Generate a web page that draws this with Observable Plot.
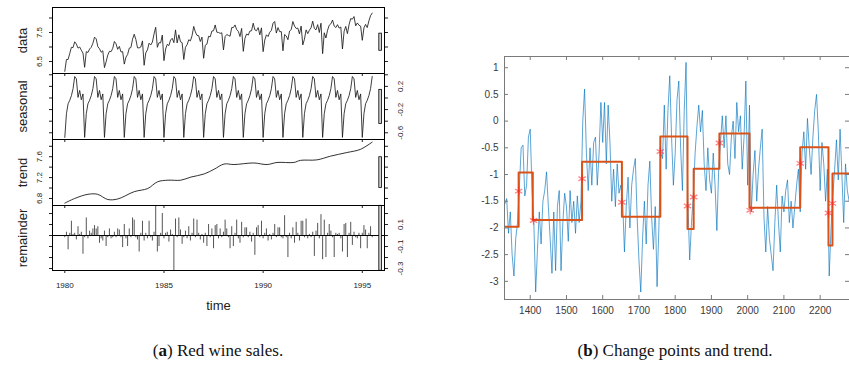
<!DOCTYPE html>
<html><head><meta charset="utf-8">
<script src="https://cdn.jsdelivr.net/npm/d3@7"></script>
<script src="https://cdn.jsdelivr.net/npm/@observablehq/plot@0.6"></script>
<style>
body{margin:0;background:#fff;}
#root{position:relative;width:849px;height:370px;overflow:hidden;background:#fff;}
.panel{position:absolute;}
.cap{position:absolute;top:341px;font-family:"Liberation Serif","DejaVu Serif",serif;font-size:17px;color:#111;white-space:nowrap;transform:translateX(-50%);}
</style></head><body><div id="root"></div>
<script>
// ---------- (a) Red wine sales, STL decomposition (monthly, Jan 1980 - Jul 1995) ----------
const wineStartYear = 1980;
const wineData = [
 6.16,6.57,6.57,6.78,6.99,6.98,7.18,7.10,6.96,7.00,6.89,6.79,
 6.30,6.84,6.81,6.93,6.99,7.13,7.34,7.28,7.01,6.94,6.82,6.87,
 6.29,6.49,6.72,6.85,6.84,6.95,7.19,7.11,6.92,7.02,6.83,6.84,
 6.41,6.65,6.74,6.96,6.98,7.27,7.44,7.26,6.97,6.97,7.00,7.21,
 6.37,6.80,6.90,7.13,7.07,7.17,7.45,7.68,6.99,7.15,7.14,7.41,
 6.53,6.93,7.09,7.05,7.24,7.30,7.15,7.59,7.14,7.42,7.18,7.15,
 6.57,6.99,7.08,7.25,7.21,7.39,7.71,7.52,7.40,7.39,7.19,7.34,
 6.61,7.06,7.10,7.37,7.35,7.55,7.56,7.76,7.51,7.50,7.47,7.49,
 6.90,7.36,7.43,7.40,7.37,7.67,7.67,7.76,7.60,7.54,7.36,7.64,
 6.85,7.30,7.45,7.41,7.55,7.56,7.82,7.59,7.56,7.67,7.42,7.66,
 6.84,7.24,7.42,7.36,7.51,7.57,7.82,7.88,7.48,7.67,7.53,7.53,
 6.87,7.43,7.38,7.25,7.55,7.60,7.88,7.72,7.64,7.65,7.45,7.72,
 7.07,7.27,7.59,7.46,7.58,7.66,7.89,7.64,7.59,7.77,7.50,7.82,
 6.77,7.49,7.31,7.58,7.75,7.80,7.93,7.72,7.67,7.77,7.65,7.69,
 6.93,7.54,7.71,7.46,7.77,7.98,7.96,8.05,7.73,7.83,7.75,7.72,
 7.23,7.66,7.78,7.67,7.90,8.08,8.17
];
const wineSeasonal = [
 -0.68,-0.27,-0.10,-0.04,0.04,0.16,0.37,0.33,0.01,0.13,-0.03,0.07,
 -0.68,-0.27,-0.10,-0.04,0.04,0.16,0.37,0.33,0.01,0.13,-0.03,0.07,
 -0.68,-0.27,-0.10,-0.04,0.04,0.16,0.37,0.33,0.01,0.13,-0.03,0.07,
 -0.68,-0.27,-0.10,-0.04,0.04,0.16,0.37,0.33,0.01,0.13,-0.03,0.07,
 -0.68,-0.27,-0.10,-0.04,0.04,0.16,0.37,0.33,0.01,0.13,-0.03,0.07,
 -0.68,-0.27,-0.10,-0.04,0.04,0.16,0.37,0.33,0.01,0.13,-0.03,0.07,
 -0.68,-0.27,-0.10,-0.04,0.04,0.16,0.37,0.33,0.01,0.13,-0.03,0.07,
 -0.68,-0.27,-0.10,-0.04,0.04,0.16,0.37,0.33,0.01,0.13,-0.03,0.07,
 -0.68,-0.27,-0.10,-0.04,0.04,0.16,0.37,0.33,0.01,0.13,-0.03,0.07,
 -0.68,-0.27,-0.10,-0.04,0.04,0.16,0.37,0.33,0.01,0.13,-0.03,0.07,
 -0.68,-0.27,-0.10,-0.04,0.04,0.16,0.37,0.33,0.01,0.13,-0.03,0.07,
 -0.68,-0.27,-0.10,-0.04,0.04,0.16,0.37,0.33,0.01,0.13,-0.03,0.07,
 -0.68,-0.27,-0.10,-0.04,0.04,0.16,0.37,0.33,0.01,0.13,-0.03,0.07,
 -0.68,-0.27,-0.10,-0.04,0.04,0.16,0.37,0.33,0.01,0.13,-0.03,0.07,
 -0.68,-0.27,-0.10,-0.04,0.04,0.16,0.37,0.33,0.01,0.13,-0.03,0.07,
 -0.68,-0.27,-0.10,-0.04,0.04,0.16,0.37
];
const trendTime  = [1980.0,1980.5,1981.17,1981.65,1982.17,1982.67,1983.5,1984.18,1984.68,1985.2,1985.85,1986.36,1987.03,1987.53,1988.03,1988.53,1989.53,1990.2,1990.7,1991.55,1991.88,1992.72,1993.39,1994.22,1994.9,1995.5];
const trendValue = [6.71,6.80,6.88,6.88,6.78,6.79,6.93,6.99,7.12,7.15,7.15,7.21,7.27,7.36,7.46,7.45,7.48,7.45,7.49,7.49,7.53,7.54,7.61,7.68,7.74,7.88];
const wineRemainder = [
 -0.02,0.03,-0.13,0.02,0.13,0.01,0.02,-0.04,0.08,0.01,0.03,-0.17,
 -0.02,0.16,-0.03,0.04,0.02,0.06,0.09,0.06,0.08,-0.07,-0.03,-0.05,
 0.04,-0.10,-0.02,0.06,-0.03,-0.02,0.03,-0.02,0.06,0.05,-0.02,-0.11,
 0.10,-0.03,-0.10,0.06,-0.02,0.16,0.14,-0.02,-0.04,-0.15,0.02,0.13,
 -0.05,0.02,-0.03,0.13,-0.02,-0.05,0.03,0.27,-0.15,-0.10,0.02,0.20,
 -0.03,0.02,0.03,-0.06,0.05,0.01,-0.32,0.15,-0.02,0.16,0.05,-0.08,
 -0.02,0.04,-0.03,0.08,-0.05,0.02,0.15,-0.02,0.14,0.02,-0.04,0.01,
 -0.07,0.02,-0.10,0.10,-0.02,0.06,-0.12,0.09,0.10,-0.03,0.06,-0.02,
 0.03,0.14,0.06,-0.02,-0.12,0.08,-0.10,0.02,0.14,-0.03,-0.07,0.12,
 -0.02,0.07,0.07,-0.02,0.03,-0.06,0.02,-0.18,0.07,0.09,-0.02,0.13,
 -0.03,0.02,0.06,-0.05,0.01,-0.04,0.02,0.10,-0.02,0.07,0.07,-0.02,
 -0.03,0.18,-0.02,-0.20,0.02,-0.03,0.07,-0.07,0.12,0.02,-0.05,0.13,
 0.13,-0.02,0.15,-0.03,0.01,-0.02,0.03,-0.19,0.04,0.11,-0.03,0.19,
 -0.22,0.14,-0.20,0.02,0.10,0.04,-0.02,-0.20,0.02,0.01,0.02,-0.03,
 -0.15,0.10,0.11,-0.20,0.02,0.12,-0.09,0.03,-0.02,-0.03,0.02,-0.12,
 0.02,0.09,0.05,-0.12,0.02,0.08,-0.02
];
const timeTicks = [1980, 1985, 1990, 1995];
const dataTicks = [6.5, 7, 7.5, 8],            dataLabels = [6.5, 7.5];
const seasonalTicks = [-0.6,-0.4,-0.2,0,0.2,0.4], seasonalLabels = [-0.6, -0.2, 0.2];
const trendTicks = [6.8, 7.0, 7.2, 7.4, 7.6, 7.8], trendLabels = [6.8, 7.2, 7.6];
const remainderTicks = [-0.3,-0.2,-0.1,0,0.1,0.2], remainderLabels = [-0.3, -0.1, 0.1];

// ---------- (b) Change points and trend ----------
const signalStart = 1330, signalStep = 5;
const signalValues = [
 -1.55,-1.45,-2.1,-1.7,-2.5,-2.9,-2.2,-1.9,-1.25,-0.5,
 -0.45,-1.4,-1.2,-0.3,-0.15,-1.3,-1.9,-3.2,-2.4,-1.7,
 -2.3,-1.5,-1.3,-0.95,-1.6,-2.2,-2.85,-1.7,-2.8,-1.6,
 -1.3,-2.8,-1.9,-1.35,-1.6,-2.25,-1.3,-1.9,-1.5,-2.1,
 -1.4,-1.9,-1.5,0.0,0.6,-0.6,-1.3,-0.5,-1.2,-0.4,
 -0.3,-1.2,-0.6,0.35,-0.4,0.35,-0.8,0.3,-0.4,-1.5,
 -0.9,-1.6,-0.8,-1.35,-1.2,-1.5,-2.45,-1.6,-1.05,-2.0,
 -1.2,-0.9,-0.7,-1.8,-2.6,-3.2,-2.2,-1.5,-2.3,-1.2,
 -0.75,-1.8,-2.4,-1.6,-3.1,-2.0,-0.6,-0.7,0.3,-0.9,
 0.2,0.85,-0.3,-1.2,-0.6,0.4,0.75,-0.5,-1.3,0.2,
 1.1,-1.5,-2.6,-1.9,-1.4,-0.6,-0.1,0.3,-0.2,0.2,
 -0.8,-1.3,-0.5,-1.1,-1.35,-0.6,-1.2,-2.05,-0.9,-0.4,
 0.1,-0.5,0.1,-0.8,-1.0,-0.3,0.0,-0.7,0.35,-0.2,
 0.1,-0.9,-0.3,0.75,-1.2,0.3,-1.7,-1.0,-0.55,-1.5,
 -0.9,-0.5,-0.15,-1.8,-2.45,-1.6,-2.2,-2.5,-2.8,-1.9,
 -1.2,-1.9,-2.45,-1.4,-1.7,-1.3,-1.1,-1.9,-1.5,-2.0,
 -1.6,-1.2,-0.9,-1.7,-0.6,-0.2,-0.9,0.05,-0.5,-1.0,
 -0.3,0.2,0.5,-0.2,-1.3,-0.4,-0.8,-1.5,-0.9,-2.9,
 -2.0,-1.4,-0.9,-0.35,-1.1,-0.15,-1.0,-1.9,-0.8,-1.3,-1.5
];
const segmentStart = [1329,1368,1407,1543,1653,1759,1834,1851,1922,2005,2145,2223,2234];
const segmentLevel = [-1.98,-0.96,-1.85,-0.76,-1.79,-0.29,-2.02,-0.89,-0.23,-1.62,-0.49,-2.33,-0.98];
const changeX = [1368,1409,1543,1653,1759,1834,1851,1922,2007,2145,2223,2234];
const changeY = [-1.31,-1.86,-1.08,-1.52,-0.57,-1.59,-1.42,-0.41,-1.67,-0.79,-1.72,-1.54];
const bXTicks = [1400,1500,1600,1700,1800,1900,2000,2100,2200];
const bYTicks = [-3,-2.5,-2,-1.5,-1,-0.5,0,0.5,1];

// ---------- build ----------
const root = document.getElementById("root");
function place(node, left, top) {
  const d = document.createElement("div");
  d.className = "panel"; d.style.left = left + "px"; d.style.top = top + "px";
  d.append(node); root.append(d);
}
const fmt = d => String(d);
const none = () => "";
const months = wineData.map((_, i) => wineStartYear + i / 12);
const rowsOf = arr => arr.map((v, i) => ({t: months[i], v}));
const trendRows = trendTime.map((t, i) => ({t, v: trendValue[i]}));

const xDomainA = [1979.38, 1996.12];
const ranges = [wineData, wineSeasonal, trendValue, wineRemainder].map(a => d3.extent(a));
const barH = d3.min(ranges, r => r[1] - r[0]);
const dxBar = (xDomainA[1] - xDomainA[0]) / 64;

const panels = [
  {name: "data", top: 7, height: 66, domain: [6.086, 8.362], rows: rowsOf(wineData), kind: "line", ticks: dataTicks, labels: dataLabels, side: "left", range: ranges[0]},
  {name: "seasonal", top: 73, height: 66, domain: [-0.716, 0.422], rows: rowsOf(wineSeasonal), kind: "line", ticks: seasonalTicks, labels: seasonalLabels, side: "right", range: ranges[1]},
  {name: "trend", top: 139, height: 66, domain: [6.665, 7.93], rows: trendRows, kind: "smooth", ticks: trendTicks, labels: trendLabels, side: "left", range: ranges[2]},
  {name: "remainder", top: 205, height: 65, domain: [-0.318, 0.273], rows: rowsOf(wineRemainder), kind: "h", ticks: remainderTicks, labels: remainderLabels, side: "right", range: ranges[3]}
];

panels.forEach((p, idx) => {
  const last = idx === panels.length - 1;
  const mid = (p.range[0] + p.range[1]) / 2;
  const marks = [];
  if (p.kind === "line") marks.push(Plot.lineY(p.rows, {x: "t", y: "v", stroke: "#1b1b1b", strokeWidth: 0.85}));
  if (p.kind === "smooth") marks.push(Plot.lineY(p.rows, {x: "t", y: "v", curve: "catmull-rom", stroke: "#1b1b1b", strokeWidth: 0.9}));
  if (p.kind === "h") {
    marks.push(Plot.ruleX(p.rows, {x: "t", y1: 0, y2: "v", stroke: "#2a2a2a", strokeWidth: 0.8}));
    marks.push(Plot.ruleY([0], {stroke: "#000", strokeWidth: 1}));
  }
  marks.push(Plot.rect([{}], {x1: xDomainA[1] - dxBar, x2: xDomainA[1] - dxBar / 2, y1: mid - barH / 2, y2: mid + barH / 2, fill: "#d3d3d3", stroke: "#000", strokeWidth: 0.8}));
  marks.push(Plot.frame({stroke: "#000", strokeWidth: 1}));
  marks.push(Plot.axisY({anchor: "left", ticks: p.ticks, tickSize: 3, tickFormat: none, label: null}));
  marks.push(Plot.axisY({anchor: "right", ticks: p.ticks, tickSize: 3, tickFormat: none, label: null}));
  marks.push(Plot.axisX({anchor: "bottom", ticks: timeTicks, tickSize: 3, tickPadding: 9, fontSize: 8, tickFormat: last ? fmt : none, label: null}));
  marks.push(Plot.text(p.labels, {y: d => d, text: fmt, frameAnchor: p.side, dx: p.side === "left" ? -13 : 16, rotate: -90, textAnchor: "middle", lineAnchor: "middle", fontSize: 8, fill: "#222"}));
  marks.push(Plot.text([p.name], {frameAnchor: "left", dx: -30, rotate: -90, textAnchor: "middle", lineAnchor: "middle", fontSize: 13, fill: "#222"}));
  if (last) marks.push(Plot.text(["time"], {frameAnchor: "bottom", dy: 35, textAnchor: "middle", lineAnchor: "middle", fontSize: 13, fill: "#222"}));
  const svg = Plot.plot({
    width: 420, height: p.height,
    marginLeft: 52, marginRight: 36, marginTop: 0, marginBottom: 0,
    x: {domain: xDomainA, label: null}, y: {domain: p.domain, label: null},
    style: {overflow: "visible", background: "transparent", fontFamily: "'Liberation Sans', Arial, sans-serif", color: "#222"},
    marks
  });
  place(svg, 0, p.top);
});

// (b)
const signalRows = signalValues.map((v, i) => ({x: signalStart + i * signalStep, y: v}));
const xDomainB = [1329, 2281], yDomainB = [-3.34, 1.21];
const stepRows = segmentStart.map((x, i) => ({x, y: segmentLevel[i]}));
stepRows.push({x: xDomainB[1], y: segmentLevel[segmentLevel.length - 1]});
const starRows = changeX.map((x, i) => ({x, y: changeY[i]}));
const bW = 385, bH = 284, bML = 40, bMR = 0, bMT = 16, bMB = 25;
const fw = bW - bML - bMR, fh = bH - bMT - bMB, tk = 4;
const axisGray = "#7a7a7a";
const svgB = Plot.plot({
  width: bW, height: bH, marginLeft: bML, marginRight: bMR, marginTop: bMT, marginBottom: bMB,
  x: {domain: xDomainB, label: null}, y: {domain: yDomainB, label: null},
  style: {overflow: "visible", background: "transparent", fontFamily: "'Liberation Sans', Arial, sans-serif", color: "#3a3a3a"},
  marks: [
    Plot.lineY(signalRows, {x: "x", y: "y", stroke: "#0072BD", strokeWidth: 0.75, strokeOpacity: 0.85, clip: true}),
    Plot.line(stepRows, {x: "x", y: "y", curve: "step-after", stroke: "#D95319", strokeWidth: 2, clip: true}),
    Plot.dot(starRows, {x: "x", y: "y", symbol: "asterisk", r: 4, stroke: "#ff2020", strokeOpacity: 0.55, strokeWidth: 1.3}),
    Plot.frame({stroke: axisGray, strokeWidth: 1}),
    Plot.tickY(bYTicks, {y: d => d, insetRight: fw - tk, stroke: axisGray}),
    Plot.tickY(bYTicks, {y: d => d, insetLeft: fw - tk, stroke: axisGray}),
    Plot.tickX(bXTicks, {x: d => d, insetTop: fh - tk, stroke: axisGray}),
    Plot.tickX(bXTicks, {x: d => d, insetBottom: fh - tk, stroke: axisGray}),
    Plot.axisY({anchor: "left", ticks: bYTicks, tickSize: 0, tickPadding: 6, fontSize: 10, tickFormat: fmt, label: null}),
    Plot.axisX({anchor: "bottom", ticks: bXTicks, tickSize: 0, tickPadding: 7, fontSize: 10, tickFormat: fmt, label: null})
  ]
});
place(svgB, 464, 40);

// captions
const capA = document.createElement("div");
capA.className = "cap"; capA.style.left = "218px"; capA.innerHTML = "(<b>a</b>) Red wine sales.";
const capB = document.createElement("div");
capB.className = "cap"; capB.style.left = "675px"; capB.innerHTML = "(<b>b</b>) Change points and trend.";
root.append(capA, capB);
</script>
</body></html>
